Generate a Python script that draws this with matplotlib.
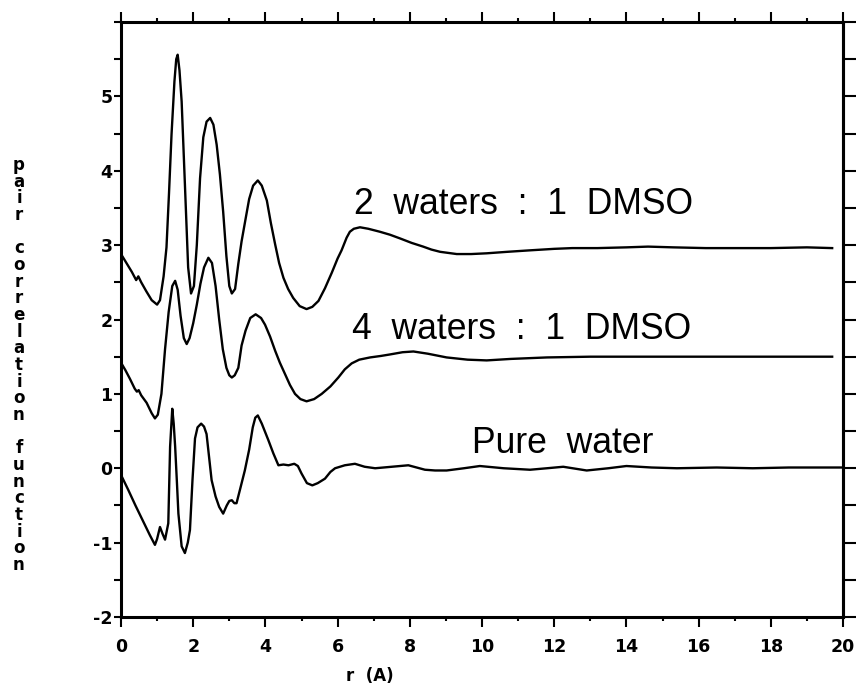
import matplotlib
matplotlib.use('Agg')
import matplotlib.pyplot as plt
from matplotlib.ticker import MultipleLocator

plt.rcParams['font.family'] = ['DejaVu Sans']
plt.rcParams['axes.unicode_minus'] = False

# Curva 2 aguas : 1 DMSO
r_2w = [0.00, 0.15, 0.30, 0.42, 0.48, 0.56, 0.70, 0.85, 1.00, 1.08, 1.18, 1.26, 1.33, 1.40,
        1.48, 1.53, 1.57, 1.62, 1.68, 1.77, 1.86, 1.94, 2.02, 2.10, 2.19, 2.28, 2.37, 2.47,
        2.56, 2.65, 2.74, 2.83, 2.92, 3.00, 3.07, 3.16, 3.25, 3.34, 3.45, 3.55, 3.66, 3.79,
        3.90, 4.04, 4.15, 4.27, 4.38, 4.50, 4.63, 4.77, 4.95, 5.14, 5.30, 5.47, 5.65, 5.84,
        6.00, 6.11, 6.25, 6.34, 6.45, 6.62, 6.85, 7.17, 7.45, 7.73, 8.05, 8.37, 8.60, 8.84,
        9.30, 9.70, 10.13, 10.70, 11.33, 12.00, 12.50, 13.20, 14.00, 14.60, 15.30, 16.20,
        17.00, 18.00, 19.00, 19.70]
g_2w = [2.88, 2.76, 2.64, 2.53, 2.58, 2.50, 2.38, 2.26, 2.20, 2.26, 2.58, 2.97, 3.70, 4.49,
        5.20, 5.50, 5.56, 5.35, 4.93, 3.82, 2.70, 2.35, 2.45, 3.00, 3.90, 4.45, 4.66, 4.71,
        4.62, 4.35, 3.95, 3.45, 2.85, 2.45, 2.35, 2.41, 2.75, 3.05, 3.35, 3.62, 3.80, 3.87,
        3.80, 3.60, 3.30, 3.01, 2.76, 2.56, 2.41, 2.29, 2.18, 2.14, 2.17, 2.25, 2.42, 2.63,
        2.82, 2.93, 3.10, 3.18, 3.22, 3.24, 3.22, 3.18, 3.14, 3.09, 3.03, 2.98, 2.94, 2.91,
        2.88, 2.88, 2.89, 2.91, 2.93, 2.95, 2.96, 2.96, 2.97, 2.98, 2.97, 2.96,
        2.96, 2.96, 2.97, 2.96]

# Curva 4 aguas : 1 DMSO
r_4w = [0.00, 0.12, 0.25, 0.38, 0.44, 0.49, 0.56, 0.71, 0.85, 0.94, 1.02, 1.12, 1.22, 1.32,
        1.42, 1.50, 1.57, 1.65, 1.74, 1.82, 1.90, 2.00, 2.10, 2.20, 2.30, 2.42, 2.52, 2.62,
        2.72, 2.82, 2.92, 3.00, 3.07, 3.15, 3.25, 3.34, 3.45, 3.58, 3.73, 3.88, 3.99, 4.13,
        4.27, 4.40, 4.54, 4.68, 4.82, 4.97, 5.14, 5.35, 5.56, 5.80, 6.02, 6.20, 6.39, 6.60,
        6.90, 7.20, 7.45, 7.80, 8.10, 8.50, 9.02, 9.60, 10.13, 10.80, 11.80, 13.00, 14.50,
        16.00, 17.50, 19.70]
g_4w = [1.42, 1.32, 1.20, 1.07, 1.03, 1.05, 0.98, 0.88, 0.74, 0.67, 0.72, 1.00, 1.60, 2.10,
        2.45, 2.52, 2.40, 2.05, 1.75, 1.67, 1.75, 1.95, 2.20, 2.48, 2.70, 2.83, 2.76, 2.45,
        2.00, 1.60, 1.35, 1.25, 1.22, 1.25, 1.35, 1.65, 1.85, 2.02, 2.07, 2.02, 1.93, 1.77,
        1.58, 1.42, 1.27, 1.12, 1.00, 0.93, 0.90, 0.93, 1.00, 1.10, 1.22, 1.33, 1.41, 1.46,
        1.49, 1.51, 1.53, 1.56, 1.57, 1.54, 1.49, 1.46, 1.45, 1.47, 1.49, 1.50, 1.50,
        1.50, 1.50, 1.50]

# Agua pura
r_pw = [0.00, 0.20, 0.40, 0.60, 0.80, 0.94, 1.00, 1.08, 1.15, 1.22, 1.31, 1.36, 1.42, 1.46,
        1.50, 1.55, 1.59, 1.68, 1.77, 1.85, 1.91, 1.98, 2.05, 2.12, 2.22, 2.30, 2.37, 2.44,
        2.51, 2.62, 2.72, 2.83, 2.93, 3.00, 3.07, 3.14, 3.20, 3.30, 3.43, 3.55, 3.65, 3.72,
        3.79, 3.90, 4.08, 4.22, 4.36, 4.50, 4.64, 4.80, 4.90, 5.00, 5.15, 5.30, 5.45, 5.65,
        5.80, 5.93, 6.20, 6.48, 6.75, 7.04, 7.50, 7.96, 8.42, 8.70, 9.02, 9.50, 9.94, 10.60,
        11.33, 11.80, 12.25, 12.90, 13.50, 14.00, 14.70, 15.40, 16.50, 17.50, 18.50, 20.00]
g_pw = [-0.09, -0.29, -0.50, -0.70, -0.90, -1.03, -0.95, -0.79, -0.88, -0.96, -0.74, 0.29,
        0.80, 0.60, 0.29, -0.20, -0.61, -1.05, -1.14, -1.00, -0.83, -0.16, 0.40, 0.55, 0.60,
        0.56, 0.46, 0.15, -0.16, -0.38, -0.52, -0.61, -0.50, -0.44, -0.43, -0.47, -0.47,
        -0.28, -0.03, 0.25, 0.55, 0.68, 0.71, 0.60, 0.38, 0.20, 0.04, 0.05, 0.04, 0.06, 0.03,
        -0.07, -0.20, -0.23, -0.20, -0.14, -0.05, 0.00, 0.04, 0.06, 0.02, 0.00, 0.02, 0.04,
        -0.02, -0.03, -0.03, 0.00, 0.03, 0.00, -0.02, 0.00, 0.02, -0.03, 0.00, 0.03, 0.01,
        0.00, 0.01, 0.00, 0.01, 0.01]

rotulos = ['2  waters  :  1  DMSO', '4  waters  :  1  DMSO', 'Pure  water']
ytick_vals = [-2, -1, 0, 1, 2, 3, 4, 5]
xtick_vals = [0, 2, 4, 6, 8, 10, 12, 14, 16, 18, 20]

fig = plt.figure(figsize=(8.58, 6.86), dpi=100)
ax = fig.add_axes([121/858, 69/686, 722/858, 595/686])

for r, g in [(r_2w, g_2w), (r_4w, g_4w), (r_pw, g_pw)]:
    ax.plot(r, g, color='black', lw=1.7)

ax.set_xlim(0, 20)
ax.set_ylim(-2, 6)
ax.set_xticks(xtick_vals)
ax.set_yticks(ytick_vals)
ax.xaxis.set_minor_locator(MultipleLocator(1))
ax.yaxis.set_minor_locator(MultipleLocator(0.5))

for s in ax.spines.values():
    s.set_linewidth(2.2)

ax.tick_params(axis='x', which='both', direction='out', top=True, width=1.5)
ax.tick_params(axis='x', which='major', length=7, pad=8, labelsize=12.5)
ax.tick_params(axis='x', which='minor', length=3)
ax.tick_params(axis='y', which='both', direction='out', length=5, width=1.5,
               pad=1, labelsize=12.5)
for lab in ax.get_xticklabels() + ax.get_yticklabels():
    lab.set_fontweight('bold')

# eixo direito com marcas mais longas
dir_ax = ax.secondary_yaxis('right')
dir_ax.yaxis.set_major_locator(MultipleLocator(0.5))
dir_ax.tick_params(direction='out', length=9, width=1.5, labelright=False)
dir_ax.spines['right'].set_linewidth(2.2)

ax.text(6.45, 3.42, rotulos[0], family='Liberation Sans', fontsize=25.6, va='baseline')
ax.text(6.40, 1.74, rotulos[1], family='Liberation Sans', fontsize=25.6, va='baseline')
ax.text(9.72, 0.21, rotulos[2], family='Liberation Sans', fontsize=25.6, va='baseline')

# rotulo vertical com letras empilhadas
nome_y = 'pair correlation function'
for i, ch in enumerate(nome_y):
    fig.text(19/858, 1 - (170 + i*16.67)/686, ch, ha='center', va='baseline',
             fontsize=12, fontweight='bold')

fig.text(370/858, 1 - 676/686, 'r  (A)', ha='center', va='center',
         fontsize=12, fontweight='bold')

fig.savefig('out.png', dpi=100)
